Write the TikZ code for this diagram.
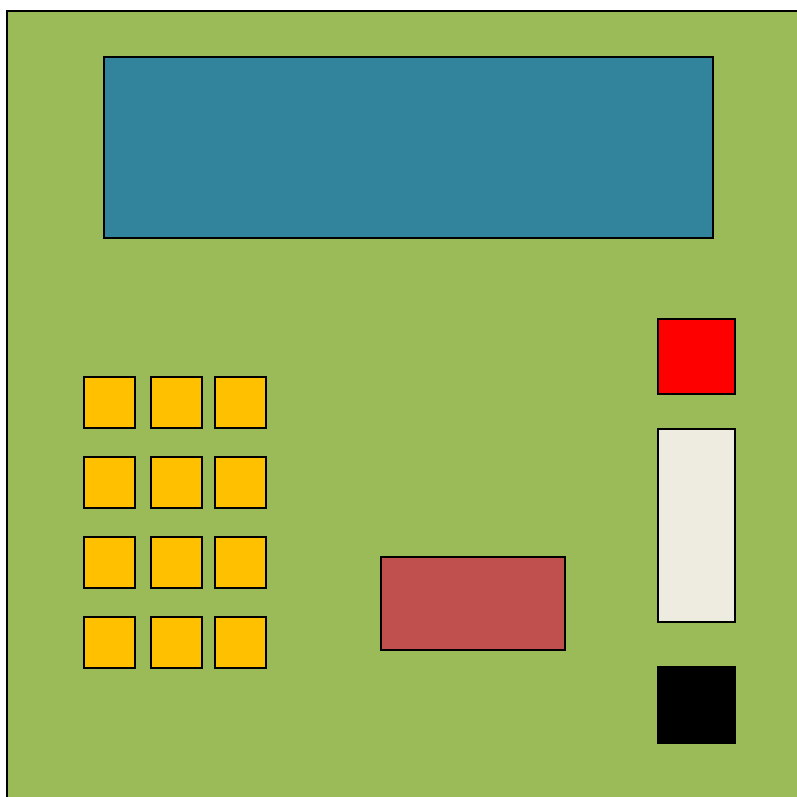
\documentclass[tikz,border=0pt]{standalone}
\usepackage{tikz}
\usetikzlibrary{positioning}
\definecolor{panelgreen}{HTML}{9BBB59}
\definecolor{screenblue}{HTML}{31849B}
\definecolor{keyyellow}{HTML}{FFC000}
\definecolor{slotcream}{HTML}{EEECE1}
\definecolor{traybrick}{HTML}{C0504D}
\begin{document}
\begin{tikzpicture}[x=1pt,y=-1pt,line width=1.5pt,
   part/.style={draw,inner sep=0pt,outer sep=0pt},
   keybtn/.style={part,fill=keyyellow,minimum width=51pt,minimum height=51pt}]
  \useasboundingbox (0,0) rectangle (797,796);
  \clip (0,0) rectangle (797,796);
  \node[part,fill=panelgreen,minimum width=805pt,minimum height=800pt,anchor=north west] (panel) at (7,11) {};
  \node[part,fill=screenblue,minimum width=609pt,minimum height=181pt] (screen) at (408.5,147.5) {};
  % keypad
  \foreach \col/\x in {1/109.5,2/176.5,3/240.5}
    \foreach \row/\y in {1/402.5,2/482.5,3/562.5,4/642.5}
      \node[keybtn] (key\row\col) at (\x,\y) {};
  \node[part,fill=traybrick,minimum width=184pt,minimum height=93pt] (tray) at (473,603.5) {};
  \node[part,fill=red,minimum width=77pt,minimum height=75pt] (stopbtn) at (696.5,356.5) {};
  \node[part,fill=slotcream,minimum width=77pt,minimum height=193pt] (slot) at (696.5,525.5) {};
  \node[part,fill=black,minimum width=77pt,minimum height=76pt] (reader) at (696.5,705) {};
\end{tikzpicture}
\end{document}
